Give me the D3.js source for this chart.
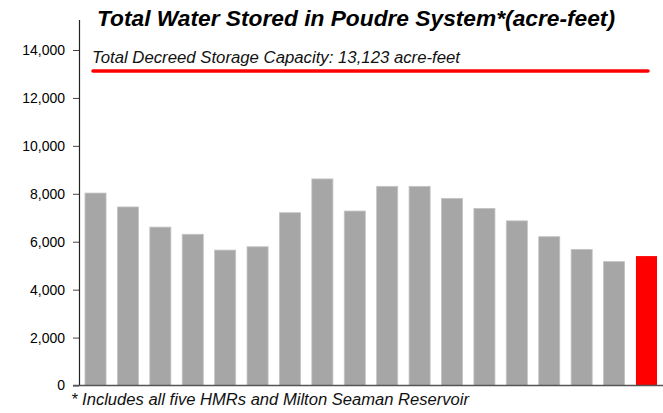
<!DOCTYPE html>
<html>
<head>
<meta charset="utf-8">
<script src="https://cdn.jsdelivr.net/npm/d3@7"></script>
<style>
  html, body { margin: 0; padding: 0; background: #fff; }
  svg { display: block; font-family: "Liberation Sans", Arial, sans-serif; }
</style>
</head>
<body>
<svg id="chart" width="663" height="413"></svg>
<script>
// ---- data ----
const categories = ["1","2","3","4","5","6","7","8","9","10","11","12","13","14","15","16","17","18"];
const storedValues = [8030, 7450, 6610, 6310, 5650, 5790, 7210, 8620, 7280, 8310, 8310, 7810, 7390, 6870, 6210, 5680, 5170, 5400];
const highlightIndex = [17];
const yTicks = [0, 2000, 4000, 6000, 8000, 10000, 12000, 14000];
const capacityValue = 13123;
const titleText = "Total Water Stored in Poudre System*(acre-feet)";
const capacityText = "Total Decreed Storage Capacity: 13,123 acre-feet";
const footnoteText = "* Includes all five HMRs and Milton Seaman Reservoir";

// ---- layout ----
const svg = d3.select("#chart");
const plotLeft = 79, plotRight = 663, plotTop = 50, plotBottom = 385.5;

const x = d3.scaleBand().domain(categories).range([plotLeft, plotRight]).paddingInner(0.35).paddingOuter(0.185);
const y = d3.scaleLinear().domain([0, 14000]).range([plotBottom, plotTop]);

// bars
svg.append("g").selectAll("rect").data(storedValues).join("rect")
  .attr("x", (d, i) => x(categories[i]))
  .attr("width", x.bandwidth())
  .attr("y", d => y(d))
  .attr("height", d => y(0) - y(d))
  .attr("fill", (d, i) => highlightIndex.includes(i) ? "#ff0000" : "#a6a6a6")
  .attr("stroke", (d, i) => highlightIndex.includes(i) ? "none" : "#c4c4c4")
  .attr("stroke-width", 0.8);

// y axis
const yAxis = d3.axisLeft(y).tickValues(yTicks).tickSize(6).tickSizeOuter(0)
  .tickFormat(d3.format(","));
const gy = svg.append("g").attr("transform", `translate(${plotLeft},0)`).call(yAxis);
gy.select(".domain").attr("stroke", "#222").attr("stroke-width", 1.2)
  .attr("d", `M0.5,${y(0)}V${plotTop - 30}`);
gy.selectAll(".tick line").attr("stroke", "#444");
gy.selectAll(".tick text").attr("font-size", 14).attr("fill", "#000")
  .attr("font-family", "Liberation Sans, Arial, sans-serif").attr("x", -14);

// x baseline
svg.append("line").attr("x1", plotLeft - 6).attr("x2", plotRight).attr("y1", y(0)).attr("y2", y(0))
  .attr("stroke", "#555").attr("stroke-width", 1.5);

// capacity line
svg.append("line").attr("x1", 93).attr("x2", 648)
  .attr("y1", y(capacityValue)).attr("y2", y(capacityValue))
  .attr("stroke", "#ff0000").attr("stroke-width", 3.5).attr("stroke-linecap", "round");

svg.append("text").attr("x", 92).attr("y", 63).attr("font-size", 16).attr("font-style", "italic")
  .attr("fill", "#111").attr("textLength", 368).attr("lengthAdjust", "spacingAndGlyphs")
  .text(capacityText);

// title
svg.append("text").attr("x", 97).attr("y", 26).attr("font-size", 22.5).attr("font-weight", "bold")
  .attr("font-style", "italic").attr("fill", "#000")
  .attr("textLength", 518).attr("lengthAdjust", "spacingAndGlyphs")
  .text(titleText);

// footnote
svg.append("text").attr("x", 71).attr("y", 405).attr("font-size", 16).attr("font-style", "italic")
  .attr("fill", "#111").attr("textLength", 398).attr("lengthAdjust", "spacingAndGlyphs")
  .text(footnoteText);
</script>
</body>
</html>
